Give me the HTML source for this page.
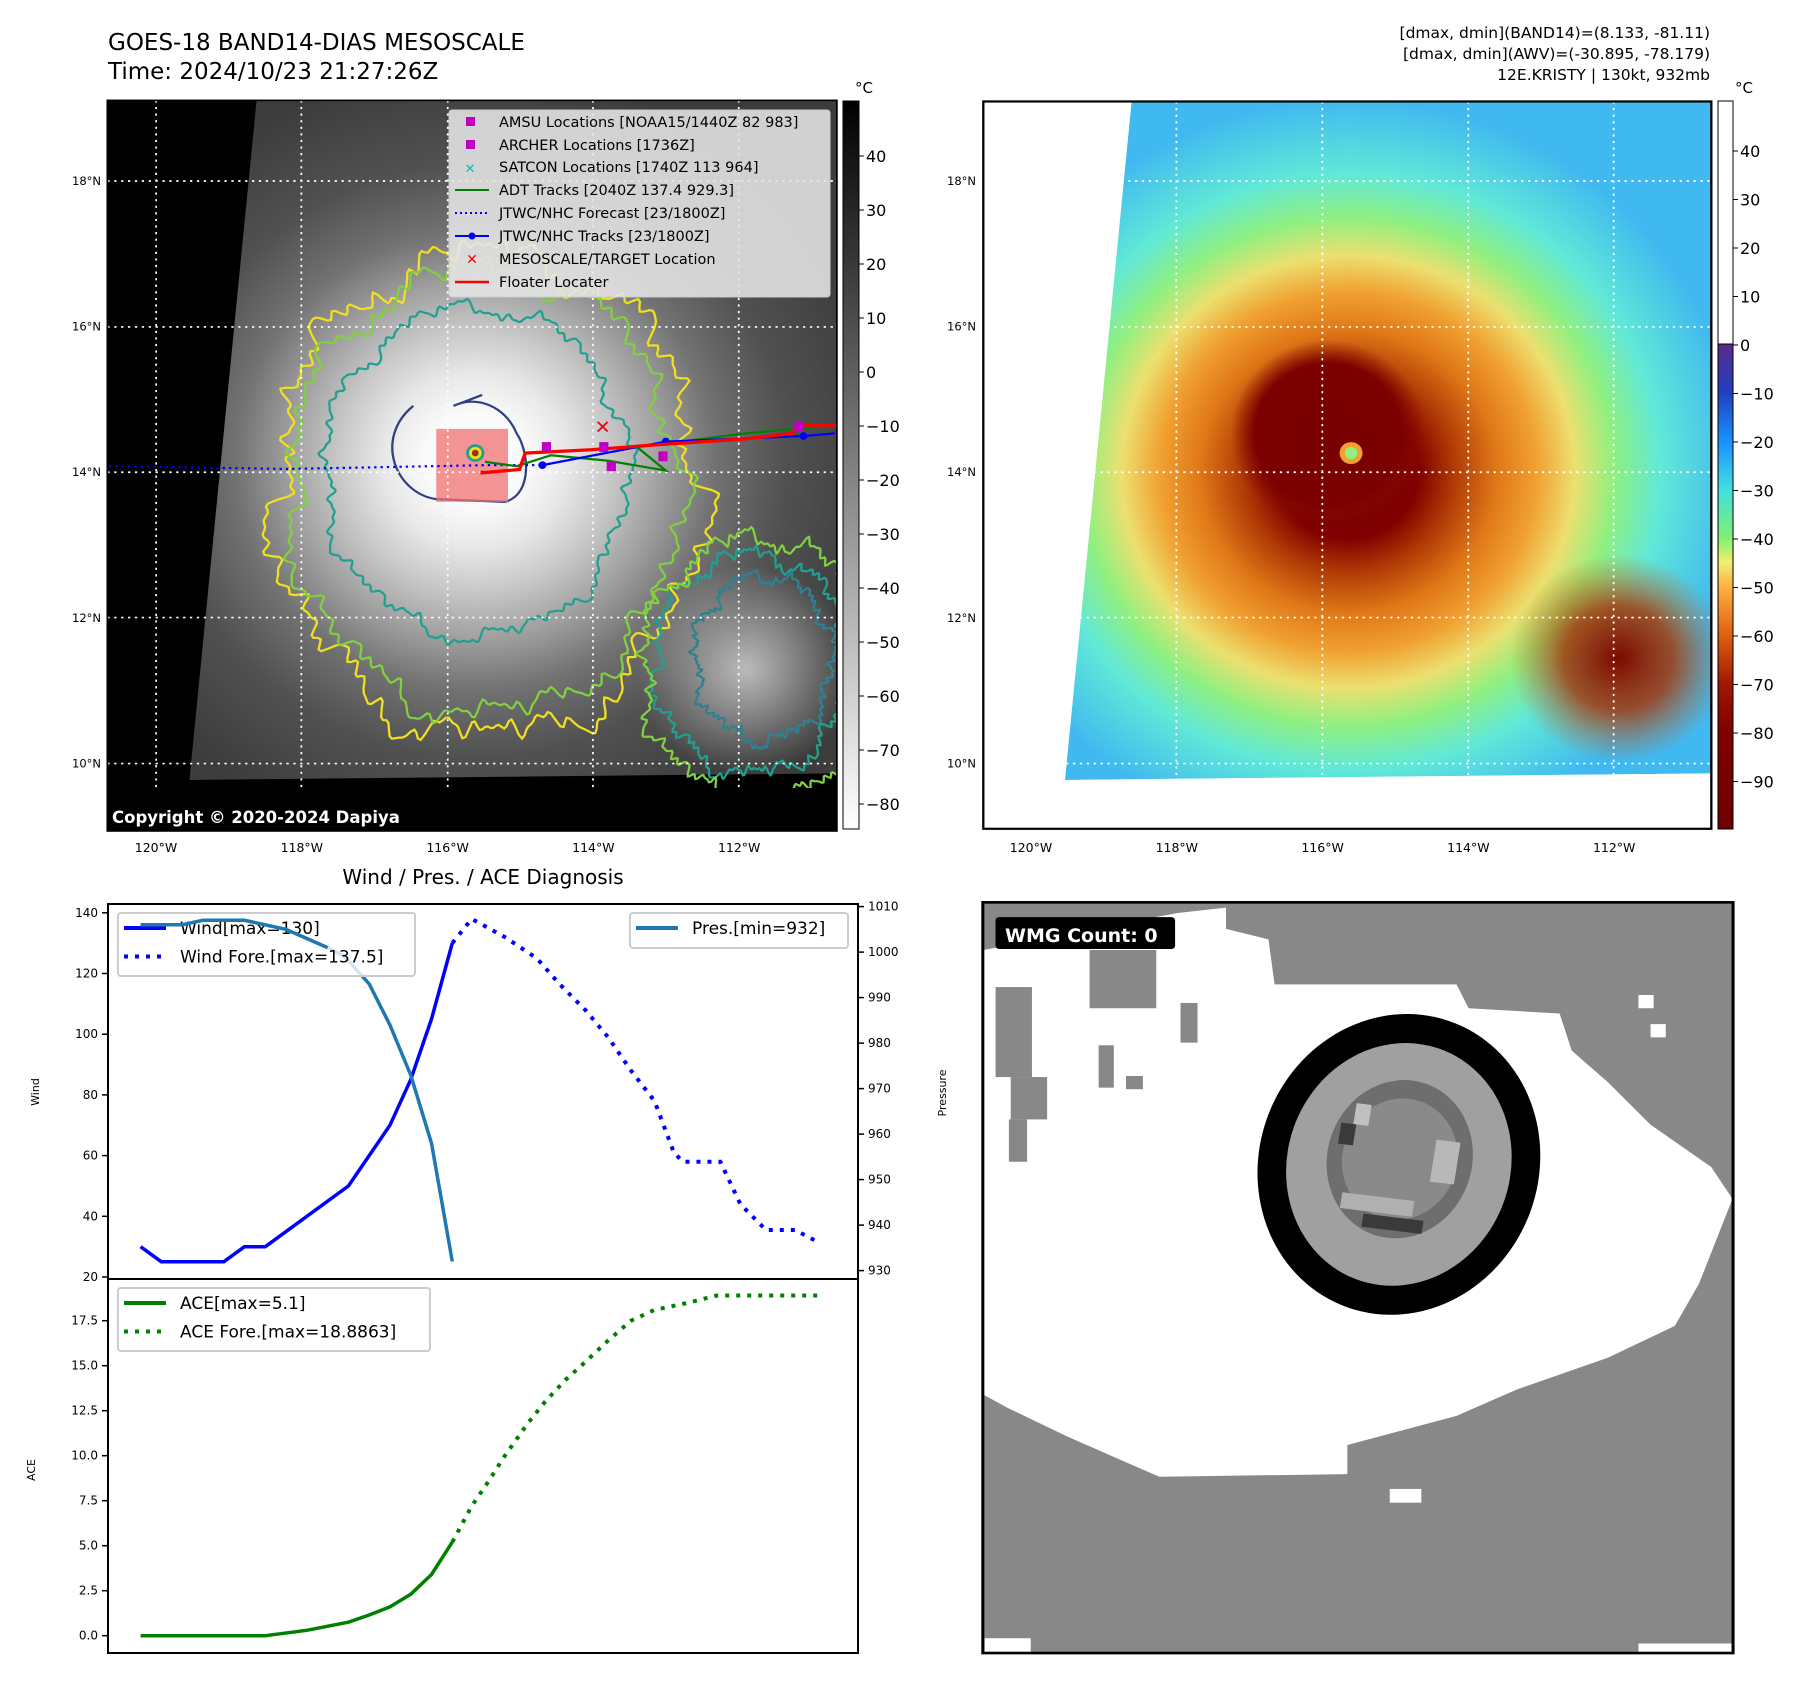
<!DOCTYPE html>
<html><head><meta charset="utf-8">
<style>
html,body{margin:0;padding:0;background:#fff;}
body{width:1801px;height:1690px;position:relative;overflow:hidden;font-family:"Liberation Sans","DejaVu Sans",sans-serif;}
svg{position:absolute;left:0;top:0;}
text{font-family:"DejaVu Sans","Liberation Sans",sans-serif;}
</style></head>
<body>
<svg id="root" width="1801" height="1690" viewBox="0 0 1801 1690">
<defs>
 <radialGradient id="gIR" gradientUnits="userSpaceOnUse" cx="828" cy="840" r="720">
  <stop offset="0" stop-color="#ffffff"/><stop offset="0.12" stop-color="#fafafa"/>
  <stop offset="0.22" stop-color="#e8e8e8"/><stop offset="0.33" stop-color="#c8c8c8"/>
  <stop offset="0.45" stop-color="#a0a0a0"/><stop offset="0.58" stop-color="#727272"/>
  <stop offset="0.75" stop-color="#515151"/><stop offset="1" stop-color="#3c3c3c"/></radialGradient>
 <radialGradient id="gSE" gradientUnits="userSpaceOnUse" cx="1300" cy="1220" r="190">
  <stop offset="0" stop-color="#e0e0e0" stop-opacity="0.75"/><stop offset="1" stop-color="#e0e0e0" stop-opacity="0"/></radialGradient>
 <radialGradient id="gAWV" gradientUnits="userSpaceOnUse" cx="780" cy="860" r="680">
  <stop offset="0" stop-color="#7a0000"/><stop offset="0.18" stop-color="#800000"/>
  <stop offset="0.27" stop-color="#b03a05"/><stop offset="0.38" stop-color="#e07818"/>
  <stop offset="0.48" stop-color="#f0a030"/><stop offset="0.58" stop-color="#ece070"/>
  <stop offset="0.68" stop-color="#90f080"/><stop offset="0.8" stop-color="#60e8d8"/>
  <stop offset="1" stop-color="#40b8f0"/></radialGradient>
 <radialGradient id="gCore" gradientUnits="userSpaceOnUse" cx="745" cy="790" r="170">
  <stop offset="0" stop-color="#780000"/><stop offset="0.75" stop-color="#7c0000"/>
  <stop offset="1" stop-color="#8a1000" stop-opacity="0"/></radialGradient>
 <radialGradient id="gSE2" gradientUnits="userSpaceOnUse" cx="1250" cy="1200" r="190">
  <stop offset="0" stop-color="#7a0a00"/><stop offset="0.5" stop-color="#a83000" stop-opacity="0.8"/>
  <stop offset="1" stop-color="#d06010" stop-opacity="0"/></radialGradient>
 <linearGradient id="cb1" x1="0" y1="0" x2="0" y2="1">
  <stop offset="0" stop-color="#000"/><stop offset="1" stop-color="#fff"/></linearGradient>
 <linearGradient id="cb2" x1="0" y1="0" x2="0" y2="1">
  <stop offset="0" stop-color="#5a2a8a"/><stop offset="0.1" stop-color="#2040c0"/>
  <stop offset="0.2" stop-color="#1a90ff"/><stop offset="0.3" stop-color="#40e0e0"/>
  <stop offset="0.4" stop-color="#80f070"/><stop offset="0.45" stop-color="#f0f070"/>
  <stop offset="0.5" stop-color="#ffb040"/><stop offset="0.6" stop-color="#e06010"/>
  <stop offset="0.7" stop-color="#a01800"/><stop offset="0.8" stop-color="#800000"/>
  <stop offset="1" stop-color="#700000"/></linearGradient>
 <clipPath id="clip1"><rect x="187" y="183" width="1271" height="1332"/></clipPath>
 <clipPath id="clip2"><rect x="145" y="185" width="1267" height="1326"/></clipPath>
 <clipPath id="swath2"><polygon points="403,185 1412,185 1412,1410 287,1422"/></clipPath>
</defs>

<text x="108" y="50" font-size="23">GOES-18 BAND14-DIAS MESOSCALE</text>
<text x="108" y="79" font-size="23">Time: 2024/10/23 21:27:26Z</text>
<g font-size="15.5" text-anchor="end">
 <text x="1710" y="38">[dmax, dmin](BAND14)=(8.133, -81.11)</text>
 <text x="1710" y="59">[dmax, dmin](AWV)=(-30.895, -78.179)</text>
 <text x="1710" y="80">12E.KRISTY | 130kt, 932mb</text>
</g>

<g id="map1" transform="scale(0.5740,0.5485)">
 <g clip-path="url(#clip1)">
  <rect x="187" y="183" width="1271" height="1332" fill="#000"/>
  <polygon points="447,183 1458,183 1458,1410 330,1422" fill="url(#gIR)"/>
  <circle cx="1300" cy="1220" r="190" fill="url(#gSE)"/>
  <g id="cont1" fill="none" stroke-width="4"></g>
  <rect x="760" y="782" width="125" height="133" fill="#f07070" opacity="0.75"/>
  <g id="grid1" stroke="#fff" stroke-width="3" stroke-dasharray="4 8"></g>
  <polyline points="190,850 500,855 850,848 945,848" fill="none" stroke="#0000ff" stroke-width="4" stroke-dasharray="4 7"/>
  <polyline points="845,842 900,850 960,830 1060,840 1160,858 1110,815 1300,790 1455,775" fill="none" stroke="#008000" stroke-width="4"/>
  <polyline points="945,848 1160,805 1400,795 1455,790" fill="none" stroke="#0000ff" stroke-width="4"/>
  <g fill="#0000ff"><circle cx="945" cy="848" r="7"/><circle cx="1160" cy="805" r="7"/><circle cx="1400" cy="795" r="7"/></g>
  <polyline points="840,858 840,862 905,856 915,826 1030,820 1130,812 1300,800 1380,790 1390,775 1455,775" fill="none" stroke="#ff0000" stroke-width="6"/>
  <g fill="#c000c0"><rect x="944" y="806" width="16" height="18"/><rect x="1044" y="806" width="16" height="18"/><rect x="1057" y="841" width="16" height="18"/><rect x="1147" y="823" width="16" height="18"/><rect x="1384" y="769" width="16" height="18"/></g>
  <text x="1050" y="790" font-size="34" fill="#ff0000" text-anchor="middle" font-weight="bold">✕</text>
  <circle cx="828" cy="826" r="16" fill="#20a090"/><circle cx="828" cy="826" r="11" fill="#f0e020"/><circle cx="828" cy="826" r="6" fill="#a03010"/>
 </g>
 <rect x="187" y="183" width="1271" height="1332" fill="none" stroke="#000" stroke-width="3"/>
</g>
<rect x="109" y="788" width="728" height="43" fill="#000"/>
<text x="112" y="823" font-size="16.5" font-weight="bold" fill="#fff">Copyright © 2020-2024 Dapiya</text>

<g font-size="14.5">
 <rect x="449" y="110" width="381" height="187" rx="3" fill="#e6e6e6" fill-opacity="0.88" stroke="#ccc"/>
 <rect x="466" y="117" width="9" height="9" fill="#c000c0"/><text x="499" y="127">AMSU Locations [NOAA15/1440Z 82 983]</text>
 <rect x="466" y="140" width="9" height="9" fill="#c000c0"/><text x="499" y="150">ARCHER Locations [1736Z]</text>
 <text x="470" y="173" fill="#00c0c0" text-anchor="middle" font-size="13" font-weight="bold">✕</text><text x="499" y="172">SATCON Locations [1740Z 113 964]</text>
 <line x1="455" y1="190" x2="489" y2="190" stroke="#008000" stroke-width="2"/><text x="499" y="195">ADT Tracks [2040Z 137.4 929.3]</text>
 <line x1="455" y1="213" x2="489" y2="213" stroke="#0000ff" stroke-width="2" stroke-dasharray="2 3"/><text x="499" y="218">JTWC/NHC Forecast [23/1800Z]</text>
 <line x1="455" y1="236" x2="489" y2="236" stroke="#0000ff" stroke-width="2"/><circle cx="472" cy="236" r="3.5" fill="#0000ff"/><text x="499" y="241">JTWC/NHC Tracks [23/1800Z]</text>
 <text x="472" y="264" fill="#ff0000" text-anchor="middle" font-size="14" font-weight="bold">✕</text><text x="499" y="264">MESOSCALE/TARGET Location</text>
 <line x1="455" y1="282" x2="489" y2="282" stroke="#ff0000" stroke-width="2.5"/><text x="499" y="287">Floater Locater</text>
</g>

<rect x="843" y="101" width="16" height="728" fill="url(#cb1)" stroke="#000" stroke-width="1"/>
<text x="855" y="93" font-size="15">°C</text>
<g id="cbt1" font-size="16"></g>

<g transform="translate(900,0) scale(0.5746,0.5485)">
 <g clip-path="url(#clip2)">
  <rect x="145" y="185" width="1267" height="1326" fill="#fff"/>
  <g clip-path="url(#swath2)">
   <polygon points="403,185 1412,185 1412,1410 287,1422" fill="url(#gAWV)"/>
   <circle cx="745" cy="790" r="170" fill="url(#gCore)"/>
   <circle cx="1250" cy="1200" r="190" fill="url(#gSE2)"/>
  </g>
  <circle cx="785" cy="826" r="20" fill="#f0a030"/><circle cx="785" cy="826" r="11" fill="#90f080"/>
  <g id="grid2" stroke="#fff" stroke-width="3" stroke-dasharray="4 8"></g>
 </g>
 <rect x="145" y="185" width="1267" height="1326" fill="none" stroke="#000" stroke-width="4"/>
</g>
<rect x="1718" y="101" width="15" height="243" fill="#fff" stroke="#000" stroke-width="1"/>
<rect x="1718" y="344" width="15" height="485" fill="url(#cb2)" stroke="#000" stroke-width="1"/>
<text x="1735" y="93" font-size="15">°C</text>
<g id="cbt2" font-size="16"></g>
<g id="maplabels" font-size="12.5"></g>

<g transform="translate(850,860) scale(0.6065,0.5294)">
 <rect x="219" y="80" width="1237" height="1418" fill="#888"/>
 <path d="M220,170 L540,100 L620,90 L620,130 L690,150 L700,235 L1000,235 L1020,280 L1170,290 L1190,360 L1250,420 L1320,500 L1420,580 L1455,640 L1400,800 L1360,880 L1250,940 L1100,1000 L1000,1050 L820,1105 L820,1160 L510,1165 L360,1090 L260,1035 L220,1010 Z" fill="#fff"/>
 <g fill="#888"><rect x="240" y="240" width="60" height="170"/><rect x="265" y="410" width="60" height="80"/><rect x="262" y="490" width="30" height="80"/><rect x="395" y="170" width="110" height="110"/><rect x="545" y="270" width="28" height="75"/><rect x="410" y="350" width="25" height="80"/><rect x="455" y="408" width="28" height="25"/></g>
 <g fill="#fff"><rect x="1300" y="255" width="25" height="25"/><rect x="1320" y="310" width="25" height="25"/><rect x="890" y="1188" width="52" height="26"/><rect x="222" y="1470" width="76" height="28"/><rect x="1300" y="1480" width="156" height="18"/></g>
 <g transform="rotate(8 905 575)">
  <ellipse cx="905" cy="575" rx="232" ry="285" fill="#000"/>
  <ellipse cx="905" cy="575" rx="185" ry="230" fill="#a0a0a0"/>
  <ellipse cx="905" cy="565" rx="120" ry="150" fill="#6e6e6e"/>
  <ellipse cx="905" cy="565" rx="95" ry="115" fill="#8a8a8a"/>
  <rect x="820" y="470" width="25" height="40" fill="#c0c0c0"/><rect x="960" y="520" width="40" height="80" fill="#b8b8b8"/><rect x="820" y="640" width="120" height="30" fill="#b0b0b0"/><rect x="860" y="675" width="100" height="25" fill="#3a3a3a"/><rect x="800" y="510" width="25" height="40" fill="#3a3a3a"/>
 </g>
 <rect x="219" y="80" width="1237" height="1418" fill="none" stroke="#000" stroke-width="5"/>
 <rect x="240" y="108" width="296" height="60" rx="6" fill="#000"/>
</g>
<text x="1005" y="942" font-size="19" font-weight="bold" fill="#fff">WMG Count: 0</text>

<text x="483" y="884" font-size="20" text-anchor="middle">Wind / Pres. / ACE Diagnosis</text>
<g id="chart"></g>
</svg>

<script>
const windObsHours=[0,3,12,15,18,30,36,39,42,45];
const windObs=[30,25,25,30,30,50,70,85,105,130];
const windForeHours=[45,47.8,52.6,57.2,60.5,64.2,67.5,70.8,74.2,77,78.3,83.7,86.6,90.3,94.5,97.8];
const windFore=[130,138,132,125,116.5,108,99,88,78,61,58,58,44,35.5,35.5,31.5];
const presHours=[0,6,9,15,18,21,27,29.5,33,36,39,42,45];
const presObs=[1006,1006,1007,1007,1006,1005,1001,999,993,984,973,958,932];
const aceHours=[0,18,24,30,33,36,39,42,45];
const aceObs=[0,0,0.3,0.75,1.15,1.6,2.3,3.4,5.2];
const aceForeHours=[45,47.8,50.1,52.6,55.9,58.4,61.3,64.2,67.5,70.8,74.2,79.1,83.2,97.8];
const aceFore=[5.2,7.2,8.5,10,11.8,13,14.2,15.2,16.4,17.5,18.1,18.5,18.9,18.9];
const windTicks=[20,40,60,80,100,120,140];
const presTicks=[930,940,950,960,970,980,990,1000,1010];
const aceTicks=[0,2.5,5,7.5,10,12.5,15,17.5];
const cb1Ticks=[40,30,20,10,0,-10,-20,-30,-40,-50,-60,-70,-80];
const cb2Ticks=[40,30,20,10,0,-10,-20,-30,-40,-50,-60,-70,-80,-90];
const lonTicks=["120°W","118°W","116°W","114°W","112°W"];
const latTicks=["18°N","16°N","14°N","12°N","10°N"];

const NS="http://www.w3.org/2000/svg";
function mk(tag,attrs,parent,txt){const e=document.createElementNS(NS,tag);for(const k in attrs)e.setAttribute(k,attrs[k]);if(txt!==undefined)e.textContent=txt;parent.appendChild(e);return e;}
const xS=h=>140.6+h*6.926;
const yW=v=>1277-(v-20)*3.035;
const yP=p=>906.6+(1010-p)*4.55;
const yA=v=>1635.7-v*18.0;
const chart=document.getElementById('chart');
const L=108,R=858,T=904,M=1279,B=1653;
function pts(hs,vs,yf){return hs.map((h,i)=>xS(h).toFixed(1)+','+yf(vs[i]).toFixed(1)).join(' ');}

let ln;
ln=mk('polyline',{points:pts(windObsHours,windObs,yW),fill:'none',stroke:'#0000ff','stroke-width':3.5,'stroke-linejoin':'round'},chart);


ln=mk('polyline',{points:pts(windForeHours,windFore,yW),fill:'none',stroke:'#0000ff','stroke-width':4,'stroke-dasharray':'4 7'},chart);


ln=mk('polyline',{points:pts(presHours,presObs,yP),fill:'none',stroke:'#1f77b4','stroke-width':3.5,'stroke-linejoin':'round'},chart);


ln=mk('polyline',{points:pts(aceHours,aceObs,yA),fill:'none',stroke:'#008000','stroke-width':3.5,'stroke-linejoin':'round'},chart);


ln=mk('polyline',{points:pts(aceForeHours,aceFore,yA),fill:'none',stroke:'#008000','stroke-width':4,'stroke-dasharray':'4 7'},chart);



mk('rect',{x:L,y:T,width:R-L,height:M-T,fill:'none',stroke:'#000','stroke-width':2},chart);
mk('rect',{x:L,y:M,width:R-L,height:B-M,fill:'none',stroke:'#000','stroke-width':2},chart);
windTicks.forEach(v=>{const y=yW(v);mk('line',{x1:L-6,x2:L,y1:y,y2:y,stroke:'#000','stroke-width':1.5},chart);
 const t=mk('text',{x:L-10,y:y+4,'font-size':12,'text-anchor':'end'},chart,String(v));});
presTicks.forEach(v=>{const y=yP(v);mk('line',{x1:R,x2:R+6,y1:y,y2:y,stroke:'#000','stroke-width':1.5},chart);
 const t=mk('text',{x:R+10,y:y+4,'font-size':12},chart,String(v));});
aceTicks.forEach(v=>{const y=yA(v);mk('line',{x1:L-6,x2:L,y1:y,y2:y,stroke:'#000','stroke-width':1.5},chart);
 const t=mk('text',{x:L-10,y:y+4,'font-size':12,'text-anchor':'end'},chart,v.toFixed(1));});
let at;
at=mk('text',{x:0,y:0,'font-size':11,'text-anchor':'middle',transform:'translate(39,1092) rotate(-90)'},chart,'Wind');

at=mk('text',{x:0,y:0,'font-size':11,'text-anchor':'middle',transform:'translate(35,1470) rotate(-90)'},chart,'ACE');

at=mk('text',{x:0,y:0,'font-size':11,'text-anchor':'middle',transform:'translate(946,1093) rotate(-90)'},chart,'Pressure');


function legend(x,y,w,h,items,name){const g=mk('g',{},chart);
 mk('rect',{x,y,width:w,height:h,rx:3,fill:'#fff','fill-opacity':0.8,stroke:'#ccc','stroke-width':2},g);
 items.forEach((it,i)=>{const cy=y+15+i*28.5;mk('line',{x1:x+6,x2:x+48,y1:cy,y2:cy,stroke:it.c,'stroke-width':4,'stroke-dasharray':it.d||'none'},g);
  mk('text',{x:x+62,y:cy+6,'font-size':17},g,it.t);});}
legend(118,913,297,63,[{c:'#0000ff',t:'Wind[max=130]'},{c:'#0000ff',d:'4 7',t:'Wind Fore.[max=137.5]'}],'wind-legend');
legend(630,913,218,35,[{c:'#1f77b4',t:'Pres.[min=932]'}],'pressure-legend');
legend(118,1288,312,63,[{c:'#008000',t:'ACE[max=5.1]'},{c:'#008000',d:'4 7',t:'ACE Fore.[max=18.8863]'}],'ace-legend');
const pl=mk('polyline',{points:pts(presHours.slice(0,7),presObs.slice(0,7),yP),fill:'none',stroke:'#1f77b4','stroke-width':3.5},chart);



const cbt1=document.getElementById('cbt1');
cb1Ticks.forEach(v=>{const y=156+(40-v)*5.4;mk('line',{x1:859,x2:864,y1:y,y2:y,stroke:'#000'},cbt1);
 const t=mk('text',{x:866,y:y+6},cbt1,v<0?'\u2212'+(-v):String(v));});
const cbt2=document.getElementById('cbt2');
cb2Ticks.forEach(v=>{const y=151+(40-v)*4.85;mk('line',{x1:1733,x2:1738,y1:y,y2:y,stroke:'#000'},cbt2);
 const t=mk('text',{x:1740,y:y+6},cbt2,v<0?'\u2212'+(-v):String(v));});

const gx1=[272,525,780,1033,1287], gy=[330,596,861,1126,1392];
const g1=document.getElementById('grid1');
gx1.forEach(x=>mk('line',{x1:x,x2:x,y1:183,y2:1515},g1)); gy.forEach(y=>mk('line',{x1:187,x2:1458,y1:y,y2:y},g1));
const gx2=[228,481,735,989,1242];
const g2=document.getElementById('grid2');
gx2.forEach(x=>mk('line',{x1:x,x2:x,y1:185,y2:1511},g2)); gy.forEach(y=>mk('line',{x1:145,x2:1412,y1:y,y2:y},g2));
const ml=document.getElementById('maplabels');
lonTicks.forEach((s,i)=>{let t=mk('text',{x:156+i*145.8,y:852,'text-anchor':'middle'},ml,s);
 t=mk('text',{x:1031+i*145.8,y:852,'text-anchor':'middle'},ml,s);});
latTicks.forEach((s,i)=>{const y=181+i*145.6+4;let t=mk('text',{x:101,y,'text-anchor':'end','font-size':11.5},ml,s);
 t=mk('text',{x:976,y,'text-anchor':'end','font-size':11.5},ml,s);});

function wavy(cx,cy,rx,ry,amp,ph){let d='';for(let i=0;i<=480;i++){const a=i/480*Math.PI*2;
 const m=1+amp*(Math.sin(7*a+ph)+0.6*Math.sin(13*a+2*ph)+0.45*Math.sin(23*a+0.5+ph)+0.35*Math.sin(41*a+ph*3)+0.3*Math.sin(67*a+ph*5)+0.25*Math.sin(97*a+ph*7))/2.6;
 d+=(i?'L':'M')+(cx+rx*m*Math.cos(a)).toFixed(1)+','+(cy+ry*m*Math.sin(a)).toFixed(1);}return d+'Z';}
const c1=document.getElementById('cont1');
[[850,900,370,440,0.13,0.3,'#f0e020'],[845,895,340,405,0.11,1.1,'#80d040'],[830,860,265,300,0.09,2.0,'#20a090'],
 [1310,1210,170,200,0.14,0.7,'#20a090'],[1320,1220,200,240,0.14,1.9,'#80d040'],[1330,1200,120,150,0.16,2.5,'#308090']].forEach(c=>{
 mk('path',{d:wavy(c[0],c[1],c[2],c[3],c[4],c[5]),stroke:c[6]},c1);});
mk('path',{d:'M720,740 C650,800 690,900 760,910 L880,915 C930,900 920,820 900,790 C880,740 830,720 790,740 L840,720',stroke:'#304080','stroke-width':4,fill:'none'},c1);
</script>
</body></html>
